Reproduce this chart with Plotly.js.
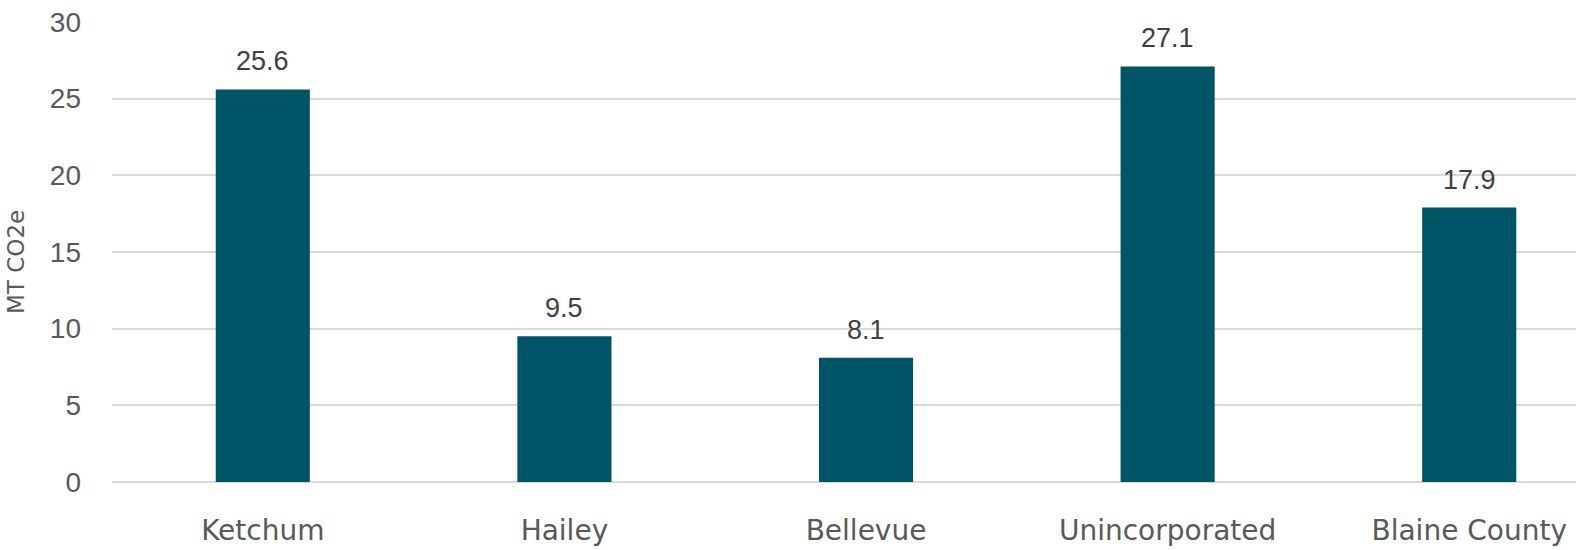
<!DOCTYPE html>
<html>
<head>
<meta charset="utf-8">
<script src="https://cdn.plot.ly/plotly-3.0.1.min.js"></script>
<style>html,body{margin:0;padding:0;background:#fff;}#chart{width:1576px;height:550px;}</style>
</head>
<body>
<div id="chart"></div>
<script>
const categories = ["Ketchum", "Hailey", "Bellevue", "Unincorporated", "Blaine County"];
const values = [25.6, 9.5, 8.1, 27.1, 17.9];
const valueLabels = ["25.6", "9.5", "8.1", "27.1", "17.9"];
const yTicks = [0, 5, 10, 15, 20, 25, 30];
const yTitle = "MT CO2e";

const trace = {
  type: 'bar',
  x: categories,
  y: values,
  marker: {color: '#005467'},
  width: 0.312,
  hoverinfo: 'x+y'
};

const annotations = categories.map((c, i) => ({
  x: c, y: values[i], xref: 'x', yref: 'y',
  text: valueLabels[i], showarrow: false,
  yanchor: 'bottom', yshift: 11,
  font: {family: 'Liberation Sans, Arial, sans-serif', size: 27, color: '#404040'}
}));
annotations.push({
  xref: 'paper', yref: 'paper', x: -0.0656, y: 0.5, yshift: -10,
  xanchor: 'center', yanchor: 'middle', textangle: -90,
  text: yTitle, showarrow: false,
  font: {family: 'DejaVu Sans, sans-serif', size: 23, color: '#595959'}
});

const layout = {
  width: 1576, height: 550,
  margin: {l: 112, r: 0, t: 22, b: 68},
  paper_bgcolor: '#fff', plot_bgcolor: '#fff',
  showlegend: false,
  annotations: annotations,
  xaxis: {
    type: 'category',
    range: [-0.5, 4.354],
    showgrid: false, showline: false, zeroline: false,
    ticks: '',
    ticklabelstandoff: 29,
    tickfont: {family: 'DejaVu Sans, sans-serif', size: 28, color: '#595959'},
    automargin: false
  },
  yaxis: {
    range: [0, 30],
    tickvals: yTicks,
    showgrid: true, gridcolor: '#d9d9d9', gridwidth: 2,
    zeroline: true, zerolinecolor: '#d9d9d9', zerolinewidth: 2,
    showline: false, ticks: '',
    ticklabelstandoff: 30,
    tickfont: {family: 'Liberation Sans, Arial, sans-serif', size: 28, color: '#595959'},
    automargin: false
  }
};

Plotly.newPlot('chart', [trace], layout, {staticPlot: true, displayModeBar: false});
</script>
</body>
</html>
